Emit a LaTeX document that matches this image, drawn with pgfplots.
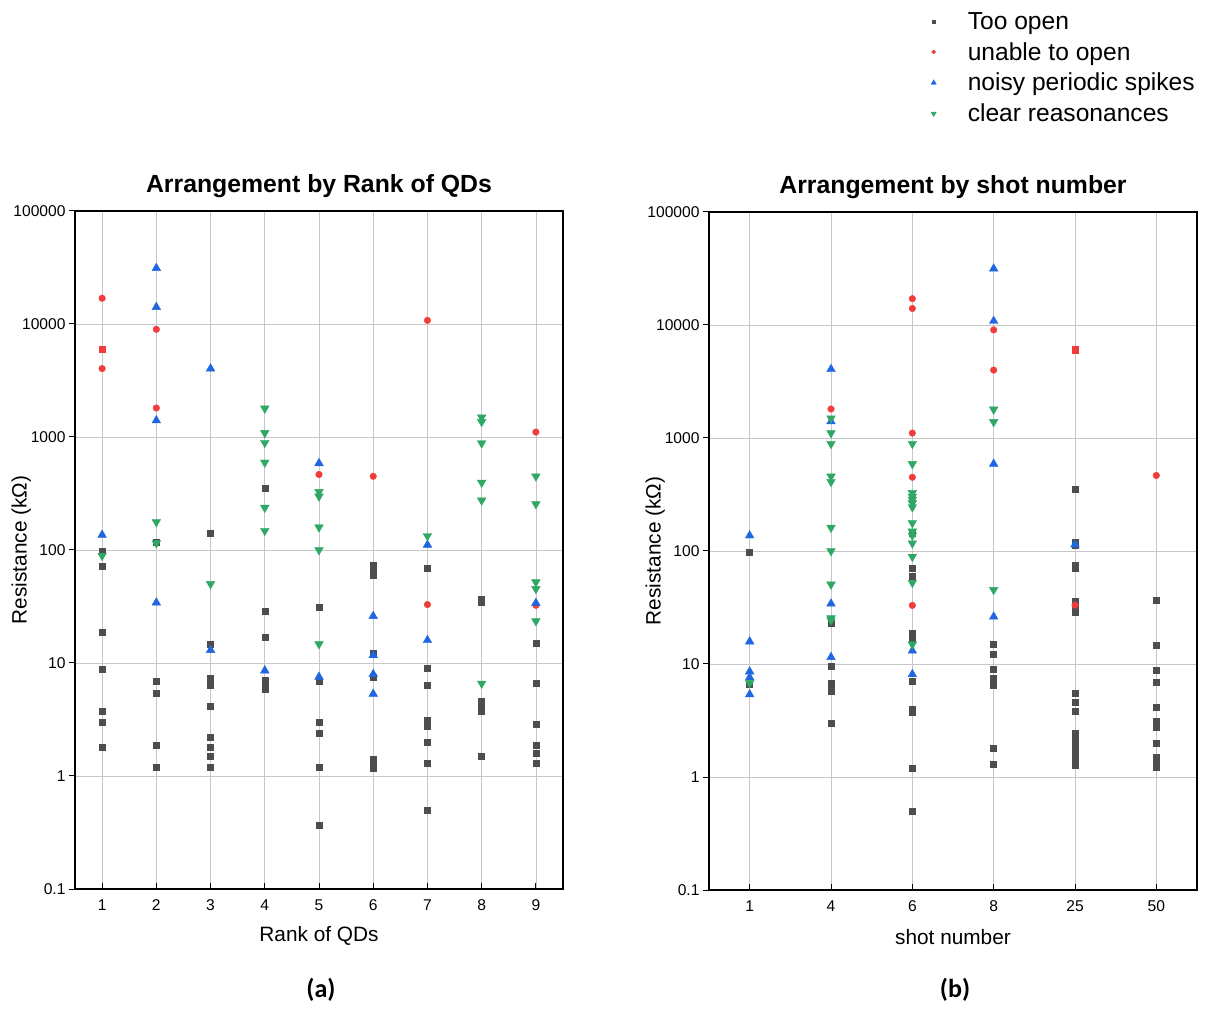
\documentclass[border=0pt]{standalone}
\usepackage{fontspec}
\setmainfont{Liberation Sans}
\newfontfamily\calib{Carlito}
\usepackage{pgfplots}
\pgfplotsset{compat=1.18}
\definecolor{cgray}{HTML}{4D4D4D}
\definecolor{cred}{HTML}{F23B3B}
\definecolor{cblue}{HTML}{1F66E0}
\definecolor{cgreen}{HTML}{2FA866}
\pgfplotsset{
 every axis/.append style={
  scale only axis, width=488pt, height=678pt,
  ymin=0.1, ymax=100000,
  ytick={0.1,1,10,100,1000,10000,100000},
  yticklabels={0.1,1,10,100,1000,10000,100000},
  yminorticks=false,
  grid=major,
  major grid style={draw=black!22, line width=0.7pt},
  axis line style={line width=1.1pt},
  tick style={black, line width=1pt},
  xtick align=inside, ytick align=outside,
  tick pos=left,
  major tick length=6pt,
  ticklabel style={font=\fontsize{15.6}{18}\selectfont},
  xticklabel style={yshift=-7pt},
 },
 every axis title/.style={at={(0.5,1)}, anchor=center, yshift=25pt, font=\bfseries\fontsize{24.8}{28}\selectfont},
 every axis y label/.style={at={(axis description cs:-0.11,0.5)}, rotate=90, anchor=center, font=\fontsize{20.8}{24}\selectfont},
 every axis x label/.style={at={(axis description cs:0.5,0)}, anchor=center, yshift=-47pt, font=\fontsize{20.8}{24}\selectfont},
}
\begin{document}
\begin{tikzpicture}
\useasboundingbox (0,0) rectangle (1207pt,1009pt);
% ---------------- (a) ----------------
\begin{semilogyaxis}[at={(75pt,120pt)}, anchor=south west,
  xmin=0.5, xmax=9.5, xtick={1,2,3,4,5,6,7,8,9}, xticklabels={1,2,3,4,5,6,7,8,9},
  title={Arrangement by Rank of QDs}, xlabel={Rank of QDs}, ylabel={Resistance (kΩ)}]
\addplot[only marks, mark=square*, color=cgray, mark size=3pt, mark options={draw=none, fill=cgray}] table {
x y
1 97
1 72
1 18.9
1 8.73
1 3.78
1 2.98
1 1.79
2 117
2 6.95
2 5.43
2 1.89
2 1.19
3 140
3 14.7
3 7.3
3 6.8
3 6.4
3 4.18
3 2.19
3 1.79
3 1.49
3 1.19
4 351
4 29
4 16.9
4 7.0
4 6.46
4 5.9
5 30.9
5 6.89
5 2.98
5 2.39
5 1.19
5 0.367
6 74
6 69
6 59.5
6 12.1
6 7.48
6 1.40
6 1.29
6 1.18
7 69.5
7 8.97
7 6.40
7 3.09
7 2.92
7 2.77
7 1.98
7 1.29
7 0.497
8 37
8 34.8
8 4.57
8 3.99
8 3.74
8 1.49
9 14.9
9 6.64
9 2.87
9 1.87
9 1.59
9 1.29
};
\addplot[only marks, mark=*, color=cred, mark size=3.3pt, mark options={draw=none, fill=cred}] table {
x y
1 16900
1 4030
2 8970
2 1806
5 466
6 449
7 10760
7 32.9
9 1105
9 32.4
};
\addplot[only marks, mark=square*, color=cred, mark size=3.3pt, mark options={draw=none, fill=cred}] table {
x y
1 6000
};
\addplot[only marks, mark=triangle*, color=cblue, mark size=5pt, mark options={draw=none, fill=cblue}] table {
x y
1 136
2 31200
2 14100
2 1400
2 34.2
3 4030
3 13.0
4 8.57
5 585
5 7.54
6 26
6 11.7
6 7.97
6 5.33
7 111
7 15.9
9 33.9
};
\addplot[only marks, mark=triangle*, color=cgreen, mark size=5pt, mark options={draw=none, fill=cgreen, rotate=180}] table {
x y
1 89
2 177
2 115
3 50.1
4 1790
4 1086
4 889
4 595
4 237
4 148
5 327
5 298
5 159
5 100
5 14.7
7 133
8 1493
8 1362
8 881
8 395
8 275
8 6.58
9 449
9 255
9 51.9
9 45.3
9 23.5
};
\end{semilogyaxis}
% ---------------- (b) ----------------
\begin{semilogyaxis}[at={(709pt,119pt)}, anchor=south west,
  xmin=0.5, xmax=6.5, xtick={1,2,3,4,5,6}, xticklabels={1,4,6,8,25,50},
  title={Arrangement by shot number}, xlabel={shot number}, ylabel={Resistance (kΩ)},
  legend style={at={(0.436,1.3006)}, anchor=north west, draw=none, fill=none,
    font=\fontsize{24.6}{29}\selectfont, row sep=7.5pt},
  legend cell align=left,
  legend image code/.code={\draw[#1, /tikz/every mark/.append style={scale=0.6}] plot coordinates {(0.3cm,0cm)}; \path (0cm,0cm) (1.42cm,0cm);}]
\addplot[only marks, mark=square*, color=cgray, mark size=3pt, mark options={draw=none, fill=cgray}] table {
x y
1 97
1 6.6
2 23.1
2 9.55
2 6.82
2 6.34
2 5.8
2 3.0
3 145
3 70
3 60
3 18.9
3 18.1
3 16.9
3 7.0
3 4.02
3 3.78
3 1.2
3 0.50
4 14.9
4 12.1
4 8.97
4 7.47
4 6.95
4 6.46
4 1.81
4 1.29
5 351
5 119
5 112
5 75.4
5 70
5 36
5 30.9
5 28.7
5 5.48
5 4.61
5 3.81
5 2.44
5 2.27
5 2.11
5 1.91
5 1.77
5 1.65
5 1.53
5 1.43
5 1.33
5 1.26
6 36.7
6 14.7
6 8.73
6 6.95
6 4.17
6 3.12
6 2.90
6 2.75
6 2.0
6 1.49
6 1.33
6 1.21
};
\addlegendentry{Too open}
\addplot[only marks, mark=*, color=cred, mark size=3.3pt, mark options={draw=none, fill=cred}] table {
x y
2 1806
3 17100
3 14000
3 1105
3 449
3 33.0
4 9050
4 3990
5 33.2
6 466
};
\addlegendentry{unable to open}
\addplot[forget plot, only marks, mark=square*, color=cred, mark size=3.3pt, mark options={draw=none, fill=cred}] table {
x y
5 6010
};
\addplot[only marks, mark=triangle*, color=cblue, mark size=5pt, mark options={draw=none, fill=cblue}] table {
x y
1 137
1 15.8
1 8.57
1 7.6
1 5.38
2 4060
2 1400
2 34.2
2 11.5
3 13.1
3 8.11
4 31500
4 10850
4 590
4 26.2
5 114
};
\addlegendentry{noisy periodic spikes}
\addplot[only marks, mark=triangle*, color=cgreen, mark size=5pt, mark options={draw=none, fill=cgreen, rotate=180}] table {
x y
1 6.8
2 1493
2 1105
2 889
2 457
2 410
2 161
2 100
2 50.6
2 25.5
2 24.4
3 889
3 590
3 327
3 303
3 285
3 265
3 244
3 177
3 149
3 137
3 117
3 89
3 52.4
3 14.9
4 1790
4 1387
4 45.3
};
\addlegendentry{clear reasonances}
\end{semilogyaxis}
\node[font=\calib\bfseries\fontsize{26}{30}\selectfont] at (321pt,19pt) {(a)};
\node[font=\calib\bfseries\fontsize{26}{30}\selectfont] at (955pt,19pt) {(b)};
\end{tikzpicture}
\end{document}
